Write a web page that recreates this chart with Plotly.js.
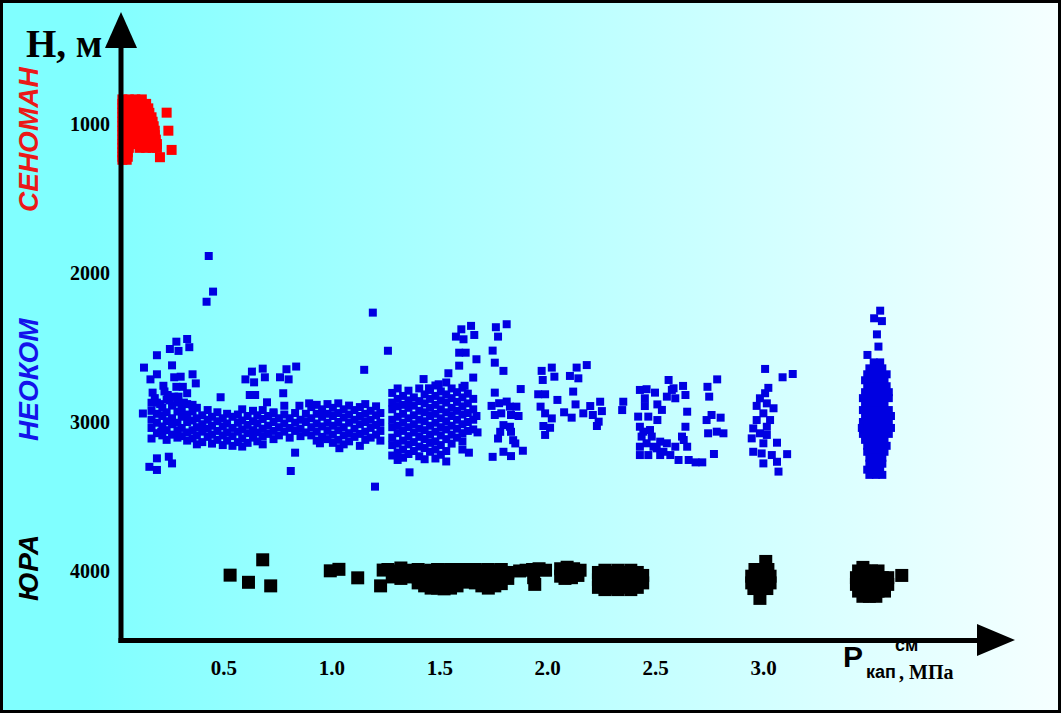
<!DOCTYPE html>
<html><head><meta charset="utf-8">
<script src="https://cdn.plot.ly/plotly-3.0.1.min.js"></script>
<style>
html,body{margin:0;padding:0;}
#wrap{position:relative;width:1061px;height:713px;background:linear-gradient(to right,#80ffff 0%,#80ffff 8%,#f6ffff 100%);}
#chart{width:1061px;height:713px;}
#frame{position:absolute;left:0;top:0;width:1061px;height:713px;box-sizing:border-box;border:3px solid #000;pointer-events:none;}
</style></head><body>
<div id="wrap"><div id="chart"></div><div id="frame"></div></div>
<script>
// ---- axis ticks ----
const pressureTicks = [0.5, 1.0, 1.5, 2.0, 2.5, 3.0];
const pressureTickText = ['0.5', '1.0', '1.5', '2.0', '2.5', '3.0'];
const depthTicks = [1000, 2000, 3000, 4000];
const depthTickText = ['1000', '2000', '3000', '4000'];

// ---- СЕНОМАН (red): rows [H, [P...]] and single points [P, H] ----
const senomanRows = [
 [835,[0.03,0.06,0.09,0.12]],
 [865,[0.03,0.06,0.09,0.12,0.14]],
 [895,[0.03,0.06,0.09,0.12,0.15]],
 [925,[0.03,0.06,0.09,0.12,0.155]],
 [955,[0.03,0.06,0.09,0.12,0.15,0.165]],
 [985,[0.03,0.06,0.09,0.12,0.15,0.17]],
 [1015,[0.03,0.06,0.09,0.12,0.15,0.175]],
 [1045,[0.03,0.06,0.09,0.12,0.15,0.18]],
 [1075,[0.03,0.06,0.09,0.12,0.15,0.18]],
 [1105,[0.03,0.06,0.09,0.12,0.15,0.185]],
 [1135,[0.03,0.06,0.10,0.13,0.16,0.19]],
 [1160,[0.03,0.06,0.11,0.14,0.17,0.19]],
 [1190,[0.03,0.055]],
 [1220,[0.03,0.055]],
 [1240,[0.03,0.05]]
];
const senomanPoints = [[0.235,924],[0.243,1045],[0.258,1174],[0.204,1223]];

// ---- НЕОКОМ (blue) ----
const neokomSparse = [
 [0.43,1886],[0.45,2125],[0.42,2193],[1.19,2266],[0.33,2443],[0.28,2461],[0.25,2510],[0.29,2523],
 [0.34,2498],[0.19,2552],[0.13,2635],[0.26,2620],[0.19,2680],[0.16,2714],[1.15,2650],[0.63,2662],
 [0.68,2642],[0.60,2714],[0.69,2700],[0.64,2734],[0.79,2646],[0.835,2628],[0.76,2700],[0.80,2714],
 [0.355,2680],[0.37,2741],[0.27,2700],[0.30,2696],[0.28,2764],[0.31,2764],[0.22,2757],[0.17,2803],
 [0.165,2871],[0.125,2943],[0.24,2819],[0.29,2830],[0.33,2807],[0.485,2834],[0.62,2819],[0.645,2819],
 [0.70,2868],[0.775,2807],[0.78,2891],[0.85,2891],[0.895,2875],[0.73,2943],[0.165,3111],[0.21,3066],
 [0.19,3244],[0.155,3301],[0.19,3322],[0.245,3233],[0.26,3278],[0.83,3206],[0.81,3329],[0.945,3143],
 [1.035,3176],[1.20,3434],
 [0.18,2840],[0.205,2880],[0.25,2855],[0.315,2870],[0.27,2830],[0.225,2795],[0.355,2885]
];
const neokomBand = [
 [0.165,[2925,2985,3040]],[0.19,[2870,2945,3005,3075]],[0.215,[2905,2960,3030,3090]],
 [0.235,[2850,2935,2995,3055,3120]],[0.26,[2890,2975,3015,3085]],[0.285,[2870,2930,3005,3060,3105]],
 [0.305,[2915,2965,3040,3095]],[0.33,[2880,2950,3000,3070,3125]],[0.355,[2930,2990,3055,3110]],
 [0.375,[2905,2975,3035,3090,3150]],[0.40,[2955,3015,3065,3135]],[0.425,[2920,2985,3045,3100]],
 [0.445,[2965,3025,3085,3145]],[0.47,[2935,2995,3060,3120]],[0.495,[2975,3030,3090,3155]],
 [0.515,[2945,3010,3070,3125]],[0.54,[2965,3040,3095,3160]],[0.565,[2950,3005,3065,3135]],
 [0.585,[2915,2990,3050,3110,3165]],[0.61,[2960,3020,3075,3140]],[0.635,[2925,2995,3055,3105]],
 [0.655,[2955,3010,3070,3130]],[0.68,[2920,2980,3045,3095,3150]],[0.705,[2960,3025,3080]],
 [0.73,[2935,3000,3060,3115]],[0.755,[2975,3035,3090]],[0.78,[2950,3010,3065]],
 [0.805,[2975,3040,3105]],[0.83,[2940,3005,3060]],[0.855,[2985,3045,3095]],[0.88,[2945,3000,3070]],
 [0.905,[2900,2975,3035,3090]],[0.93,[2885,2945,3010,3065,3125]],[0.955,[2915,2965,3030,3100]],
 [0.98,[2880,2945,3005,3060,3115]],[1.005,[2905,2960,3025,3085,3140]],[1.03,[2875,2940,3000,3055,3120]],
 [1.055,[2915,2970,3035,3090,3150]],[1.08,[2890,2950,3005,3075,3130]],[1.105,[2920,2985,3045,3100]],
 [1.13,[2900,2960,3015,3080,3160]],[1.155,[2880,2945,3000,3065,3120]],[1.18,[2925,2985,3040,3105]],
 [1.205,[2895,2955,3020,3085]],[1.225,[2940,3005,3060,3125]]
];
const neokomCluster15 = [
 [1.28,[2805,2870,2915,2985,3035,3105,3155,3225]],
 [1.305,[2775,2845,2895,2965,3025,3075,3145,3205,3255]],
 [1.33,[2825,2885,2945,3005,3060,3125,3185,3240]],
 [1.355,[2790,2855,2905,2975,3035,3095,3150,3215]],
 [1.38,[2835,2890,2955,3015,3070,3135,3195]],
 [1.405,[2775,2860,2925,2985,3045,3100,3165,3230]],
 [1.43,[2815,2875,2935,2995,3055,3115,3175,3250]],
 [1.455,[2785,2845,2905,2960,3025,3085,3140,3200]],
 [1.48,[2755,2825,2885,2945,3005,3065,3130,3185,3245]],
 [1.505,[2795,2855,2915,2975,3035,3090,3155,3220]],
 [1.53,[2735,2815,2870,2935,2995,3050,3115,3195,3265]],
 [1.555,[2775,2840,2905,2960,3025,3085,3145]],
 [1.58,[2800,2865,2925,2985,3045,3105]],
 [1.605,[2770,2835,2895,2950,3015,3075,3130,3185]],
 [1.63,[2810,2875,2940,3000,3060]],
 [1.655,[2845,2915,2985,3050]]
];
const neokomMid = [
 [1.26,2522],[1.60,2378],[1.645,2355],[1.575,2427],[1.61,2445],[1.66,2416],[1.76,2364],[1.81,2344],
 [1.77,2427],[1.59,2535],[1.62,2535],[1.67,2579],[1.59,2622],[1.745,2521],[1.755,2602],[1.795,2657],
 [1.54,2673],[1.425,2712],[1.495,2747],[1.45,2774],[1.655,2702],[1.615,2757],[1.875,2779],[1.755,2803],
 [1.36,3338],[1.635,3206],[1.675,3070],[1.67,2960],
 [1.74,2892],[1.755,2953],[1.775,2874],[1.81,2863],[1.825,2897],[1.855,2897],[1.865,2960],[1.785,2942],
 [1.83,2953],[1.795,3021],[1.825,3032],[1.78,3066],[1.83,3066],[1.77,3111],[1.84,3122],[1.85,3144],
 [1.745,3234],[1.795,3200],[1.83,3229],[1.885,3193]
];
const neokom20 = [
 [1.972,2657],[2.019,2635],[2.031,2696],[1.977,2718],[1.956,2814],[1.988,2814],[1.967,2897],[1.988,2942],
 [2.019,2976],[1.980,3027],[2.011,3039],[1.988,3087],[2.045,2852],
 [2.134,2635],[2.181,2618],[2.103,2691],[2.142,2707],[2.118,2796],[2.129,2882],[2.076,2935],[2.111,2971],
 [2.165,2942],[2.197,2893],[2.209,2953],[2.243,2864],[2.251,2927],[2.228,3027],[2.236,2998],
 [2.35,2864],[2.345,2920]
];
const neokom25 = [
 [2.56,2718],[2.427,2785],[2.458,2780],[2.497,2803],[2.583,2774],[2.627,2758],[2.638,2819],[2.552,2830],
 [2.591,2841],[2.45,2893],[2.508,2882],[2.529,2919],[2.646,2931],[2.419,2964],[2.466,2964],[2.508,2987],
 [2.427,3032],[2.474,3054],[2.638,3032],[2.435,3098],[2.482,3098],[2.622,3098],[2.427,3166],[2.49,3166],
 [2.552,3143],[2.591,3166],[2.646,3166],[2.427,3222],[2.466,3222],[2.521,3222],[2.568,3222],[2.606,3255],
 [2.653,3255],[2.685,3271],[2.716,3271],[2.63,3121],[2.45,2841],[2.575,2785],[2.458,3143],[2.505,3177],
 [2.536,3200],[2.521,3132],[2.443,3065],
 [2.785,2714],[2.74,2764],[2.748,2830],[2.736,2987],[2.759,2953],[2.801,2971],[2.743,3076],[2.783,3065],
 [2.814,3076],[2.77,3215]
];
const neokom30 = [
 [3.007,2644],[3.088,2700],[3.135,2678],[3.022,2771],[3.007,2807],[2.983,2841],[3.015,2875],[2.968,2892],
 [3.046,2908],[2.999,2942],[3.03,2987],[2.968,2987],[2.952,3043],[3.015,3032],[2.983,3076],[2.945,3110],
 [3.015,3087],[2.999,3143],[3.062,3139],[2.952,3200],[2.991,3211],[3.038,3222],[3.109,3216],[2.999,3278],
 [3.062,3267],[3.069,3333]
];
const neokom35Top = [[3.54,2253],[3.512,2304],[3.548,2323],[3.525,2412],[3.532,2494],[3.481,2550]];
const neokom35Rows = [
 [2600,[3.51,3.54]],[2640,[3.49,3.52,3.55]],[2680,[3.48,3.51,3.54,3.57]],[2720,[3.47,3.50,3.53,3.56]],
 [2760,[3.48,3.51,3.54,3.57]],[2800,[3.47,3.50,3.53,3.56,3.58]],[2840,[3.46,3.49,3.52,3.55,3.58]],
 [2880,[3.47,3.50,3.53,3.56]],[2920,[3.46,3.49,3.52,3.55,3.58]],[2960,[3.47,3.50,3.53,3.56,3.59]],
 [3000,[3.46,3.49,3.52,3.55,3.58]],[3040,[3.455,3.48,3.51,3.54,3.57,3.59]],[3080,[3.46,3.49,3.52,3.55,3.58]],
 [3120,[3.47,3.50,3.53,3.56]],[3160,[3.48,3.51,3.54,3.57]],[3200,[3.48,3.51,3.54,3.56]],
 [3240,[3.49,3.52,3.55]],[3280,[3.49,3.52,3.55]],[3320,[3.48,3.51,3.54]],[3355,[3.49,3.52,3.55]]
];

// ---- ЮРА (black) ----
const yuraSparse = [
 [0.529,4028],[0.614,4076],[0.680,3925],[0.717,4100],[0.993,3999],[1.033,3989],[1.12,4046],[1.226,4100],[1.238,3994],
 [1.26,3990],[1.29,4000],[1.32,3980],[1.35,4010],[1.28,4040],[1.32,4050],
 [1.87,4000],[1.90,3995],[1.93,3990],[1.96,3985],[1.99,3995],[1.935,4045],[1.94,4090],
 [2.06,3985],[2.09,3975],[2.12,3985],[2.15,3995],[2.06,4035],[2.11,4045],[2.14,4030],[2.08,4050],
 [3.01,3936],[2.983,4184],[3.46,3976],[3.64,4030]
];
const yuraCols = [
 [1.37,[3995,4040]],[1.40,[3990,4040,4080]],[1.43,[4000,4050,4100]],[1.46,[3995,4045,4090,4115]],
 [1.49,[3990,4030,4075,4115]],[1.52,[4000,4050,4100,4120]],[1.55,[3990,4040,4085,4115]],
 [1.58,[4000,4050,4100]],[1.61,[3990,4035,4075]],[1.635,[3990,4030]],
 [1.665,[3990,4040,4080]],[1.695,[4000,4050,4100]],[1.725,[3990,4040,4090,4115]],[1.755,[4000,4050,4100]],
 [1.785,[3990,4040,4085]],[1.815,[4010,4050]],
 [2.235,[4010,4060,4110]],[2.265,[3995,4045,4100,4125]],[2.295,[4010,4065,4115]],[2.325,[3995,4040,4090,4125]],
 [2.355,[4010,4060,4110]],[2.385,[3995,4045,4100,4125]],[2.415,[4010,4065,4110]],[2.44,[4030,4080]]
];
const yuraRows = [
 [3990,[2.96,2.99,3.02]],[4035,[2.945,2.975,3.005,3.03]],[4080,[2.945,2.975,3.005,3.03]],[4118,[2.955,2.985,3.015]],
 [4000,[3.44,3.47,3.50,3.53]],[4045,[3.43,3.46,3.49,3.52,3.55,3.575]],[4090,[3.43,3.46,3.49,3.52,3.55,3.575]],
 [4135,[3.44,3.47,3.50,3.53,3.56]],[4170,[3.46,3.49,3.52]]
];

// ---- build helpers ----
function fromPairs(list, P, H){ list.forEach(function(d){ P.push(d[0]); H.push(d[1]); }); }
function fromCols(list, P, H){ list.forEach(function(c){ c[1].forEach(function(h){ P.push(c[0]); H.push(h); }); }); }
function fromRows(list, P, H){ list.forEach(function(r){ r[1].forEach(function(p){ P.push(p); H.push(r[0]); }); }); }

const redP = [], redH = [];
fromRows(senomanRows, redP, redH); fromPairs(senomanPoints, redP, redH);
const blueP = [], blueH = [];
fromPairs(neokomSparse, blueP, blueH); fromCols(neokomBand, blueP, blueH); fromCols(neokomCluster15, blueP, blueH);
fromPairs(neokomMid, blueP, blueH); fromPairs(neokom20, blueP, blueH); fromPairs(neokom25, blueP, blueH);
fromPairs(neokom30, blueP, blueH); fromPairs(neokom35Top, blueP, blueH); fromRows(neokom35Rows, blueP, blueH);
const blackP = [], blackH = [];
fromPairs(yuraSparse, blackP, blackH); fromCols(yuraCols, blackP, blackH); fromRows(yuraRows, blackP, blackH);

const traces = [
 {x: blueP, y: blueH, type: 'scatter', mode: 'markers', cliponaxis: false,
  marker: {symbol: 'square', size: 8, color: 'rgb(0,0,225)', line: {width: 0}}},
 {x: redP, y: redH, type: 'scatter', mode: 'markers', cliponaxis: false,
  marker: {symbol: 'square', size: 10, color: 'rgb(255,0,0)', line: {width: 0}}},
 {x: blackP, y: blackH, type: 'scatter', mode: 'markers', cliponaxis: false,
  marker: {symbol: 'square', size: 13, color: 'rgb(0,0,0)', line: {width: 0}}}
];

// pixel -> paper helpers for decoration placement
const L = 121, R = 61, T = 20, B = 72, W = 1061, Hh = 713;
const pw = W - L - R, ph = Hh - T - B;
function px(x){ return (x - L) / pw; }
function py(y){ return (Hh - B - y) / ph; }

const serif = 'Liberation Serif, Times New Roman, serif';
const sans = 'Liberation Sans, Arial, sans-serif';

const layout = {
 width: W, height: Hh,
 margin: {l: L, r: R, t: T, b: B, pad: 0},
 paper_bgcolor: 'rgba(0,0,0,0)', plot_bgcolor: 'rgba(0,0,0,0)',
 showlegend: false,
 xaxis: {range: [0.0236, 4.095], showgrid: false, zeroline: false, showline: false, ticks: '',
  tickvals: pressureTicks, ticktext: pressureTickText, ticklabelstandoff: 12,
  tickfont: {family: serif, size: 21, color: '#000', weight: 'bold'}},
 yaxis: {range: [4470, 302], showgrid: false, zeroline: false, showline: false, ticks: '',
  tickvals: depthTicks, ticktext: depthTickText, ticklabelstandoff: 10,
  tickfont: {family: serif, size: 20, color: '#000', weight: 'bold'}},
 shapes: [
  {type: 'line', xref: 'paper', yref: 'paper', x0: px(121), y0: py(643), x1: px(121), y1: py(46), layer: 'above', line: {color: '#000', width: 5}},
  {type: 'line', xref: 'paper', yref: 'paper', x0: px(118.5), y0: py(640.5), x1: px(979), y1: py(640.5), layer: 'above', line: {color: '#000', width: 5}},
  {type: 'path', xref: 'paper', yref: 'paper', layer: 'above', fillcolor: '#000', line: {width: 0},
   path: 'M ' + px(121) + ' ' + py(12) + ' L ' + px(105) + ' ' + py(48) + ' L ' + px(137) + ' ' + py(48) + ' Z'},
  {type: 'path', xref: 'paper', yref: 'paper', layer: 'above', fillcolor: '#000', line: {width: 0},
   path: 'M ' + px(1015) + ' ' + py(640) + ' L ' + px(977) + ' ' + py(624) + ' L ' + px(977) + ' ' + py(656) + ' Z'}
 ],
 annotations: [
  {text: 'Н, м', xref: 'paper', yref: 'paper', x: px(64), y: py(44), xanchor: 'center', yanchor: 'middle', showarrow: false,
   font: {family: serif, size: 39, color: '#000', weight: 'bold'}},
  {text: 'СЕНОМАН', xref: 'paper', yref: 'paper', x: px(28), y: py(140), xanchor: 'center', yanchor: 'middle', textangle: -90, showarrow: false,
   font: {family: sans, size: 28, color: 'rgb(235,25,25)', weight: 'bold', style: 'italic'}},
  {text: 'НЕОКОМ', xref: 'paper', yref: 'paper', x: px(28), y: py(380), xanchor: 'center', yanchor: 'middle', textangle: -90, showarrow: false,
   font: {family: sans, size: 28, color: 'rgb(20,20,235)', weight: 'bold', style: 'italic'}},
  {text: 'ЮРА', xref: 'paper', yref: 'paper', x: px(28), y: py(568), xanchor: 'center', yanchor: 'middle', textangle: -90, showarrow: false,
   font: {family: sans, size: 28, color: '#000', weight: 'bold', style: 'italic'}},
  {text: 'P', xref: 'paper', yref: 'paper', x: px(853), y: py(657), xanchor: 'center', yanchor: 'middle', showarrow: false,
   font: {family: sans, size: 30, color: '#000', weight: 'bold'}},
  {text: 'см', xref: 'paper', yref: 'paper', x: px(906), y: py(645), xanchor: 'center', yanchor: 'middle', showarrow: false,
   font: {family: sans, size: 18, color: '#000', weight: 'bold'}},
  {text: 'кап', xref: 'paper', yref: 'paper', x: px(881), y: py(672), xanchor: 'center', yanchor: 'middle', showarrow: false,
   font: {family: sans, size: 18, color: '#000', weight: 'bold'}},
  {text: ', МПа', xref: 'paper', yref: 'paper', x: px(897), y: py(672), xanchor: 'left', yanchor: 'middle', showarrow: false,
   font: {family: serif, size: 20, color: '#000', weight: 'bold'}}
 ]
};

Plotly.newPlot('chart', traces, layout, {displayModeBar: false, staticPlot: true});
</script></body></html>
